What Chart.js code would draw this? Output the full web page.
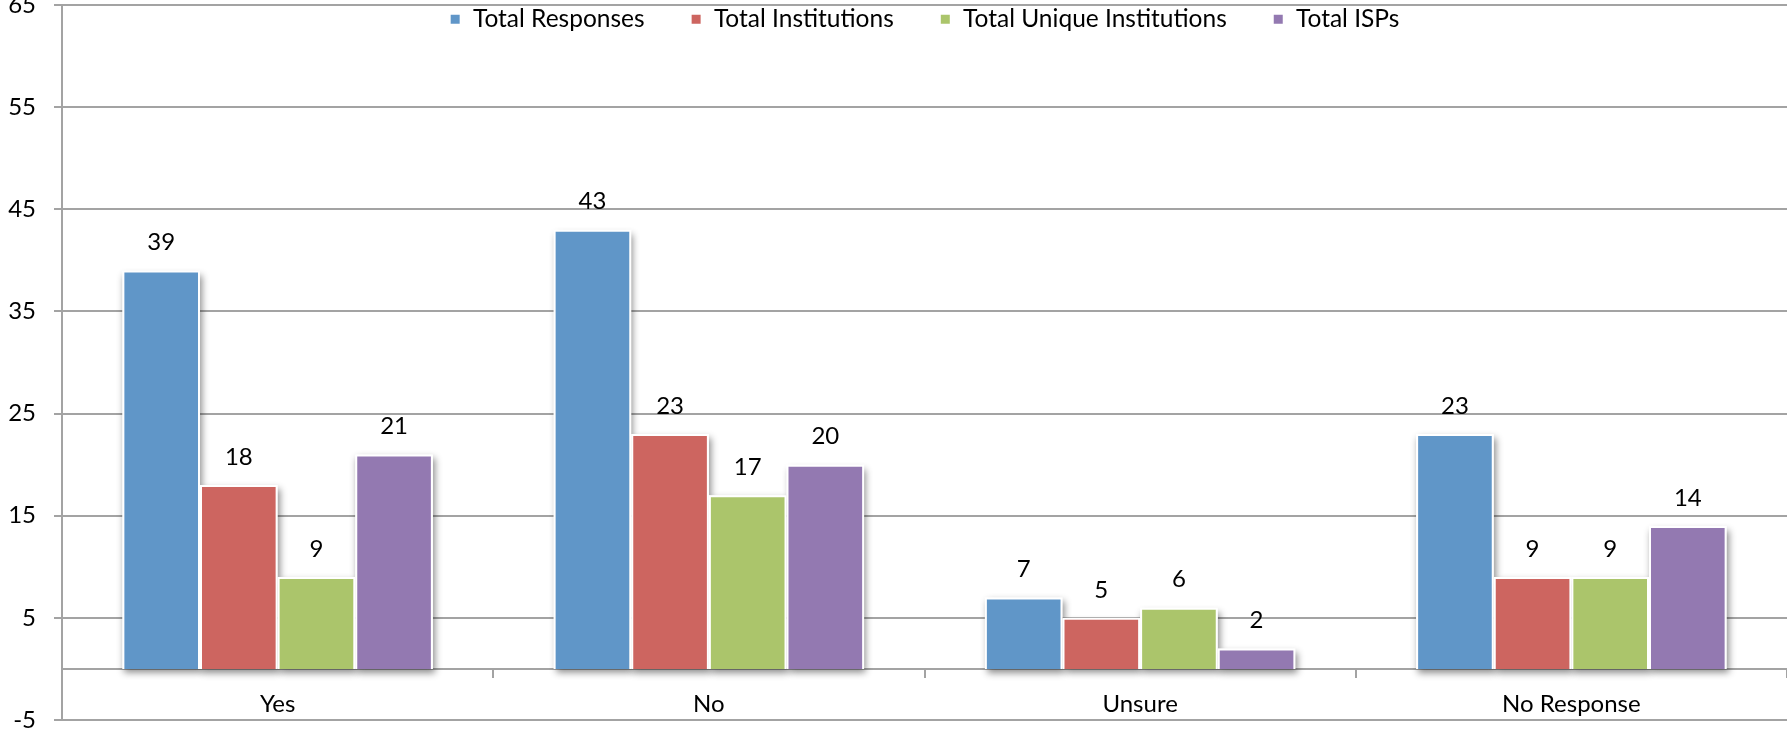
<!DOCTYPE html>
<html>
<head>
<meta charset="utf-8">
<title>Survey responses</title>
<script src="https://cdn.jsdelivr.net/npm/chart.js@4"></script>
<style>
    html, body { margin: 0; padding: 0; background: #fff; }
    #wrap { width: 1787px; height: 735px; }
</style>
</head>
<body>
<div id="wrap"><canvas id="responseChart" width="1787" height="735"></canvas></div>
<script>
// Chart data
const categories = ['Yes', 'No', 'Unsure', 'No Response'];
const seriesNames = ['Total Responses', 'Total Institutions', 'Total Unique Institutions', 'Total ISPs'];
const totalResponses = [39, 43, 7, 23];
const totalInstitutions = [18, 23, 5, 9];
const totalUniqueInstitutions = [9, 17, 6, 9];
const totalISPs = [21, 20, 2, 14];
const seriesColors = ['#6096C8', '#CD6560', '#ABC56B', '#9379B1'];

const FONT = 'Lato, "Open Sans", sans-serif';

// soft shadow under each bar, drawn before the bars themselves
const barShadow = {
    id: 'barShadow',
    beforeDatasetsDraw(chart) {
        const ctx = chart.ctx;
        ctx.save();
        ctx.shadowColor = 'rgba(0, 0, 0, 0.45)';
        ctx.shadowBlur = 7;
        ctx.shadowOffsetX = 2;
        ctx.shadowOffsetY = 4;
        ctx.fillStyle = '#ffffff';
        chart.data.datasets.forEach((ds, i) => {
            chart.getDatasetMeta(i).data.forEach(bar => {
                const w = bar.width;
                ctx.fillRect(bar.x - w / 2, bar.y, w, bar.base - bar.y);
            });
        });
        ctx.restore();
    }
};

// value labels above the bars
const valueLabels = {
    id: 'valueLabels',
    afterDatasetsDraw(chart) {
        const ctx = chart.ctx;
        ctx.save();
        ctx.font = '24px ' + FONT;
        ctx.fillStyle = '#000';
        ctx.textAlign = 'center';
        ctx.textBaseline = 'middle';
        chart.data.datasets.forEach((ds, i) => {
            chart.getDatasetMeta(i).data.forEach((bar, j) => {
                ctx.fillText(ds.data[j], bar.x, bar.y - 28);
            });
        });
        ctx.restore();
    }
};

// the legend takes no room in the layout; move it inside the plot, under the top gridline
const legendPlacement = {
    id: 'legendPlacement',
    afterLayout(chart) {
        const lg = chart.legend;
        const area = chart.chartArea;
        const pad = lg.options.labels.padding;
        lg.left = area.left;
        lg.right = area.right;
        lg.top = 7 - pad;
        lg.bottom = 60;
    }
};

const allSeries = [totalResponses, totalInstitutions, totalUniqueInstitutions, totalISPs];

new Chart(document.getElementById('responseChart').getContext('2d'), {
    type: 'bar',
    data: {
        labels: categories,
        datasets: allSeries.map((values, i) => ({
            label: seriesNames[i],
            data: values,
            backgroundColor: seriesColors[i],
            borderColor: '#ffffff',
            borderWidth: 2,
            categoryPercentage: 0.72,
            barPercentage: 1.0
        }))
    },
    options: {
        responsive: false,
        animation: false,
        layout: {
            padding: { left: 0, right: 0, top: 0, bottom: 15 }
        },
        scales: {
            y: {
                min: -5,
                max: 65,
                ticks: {
                    stepSize: 10,
                    color: '#000',
                    padding: 18,
                    font: { family: FONT, size: 24 }
                },
                grid: {
                    color: '#a3a3a3',
                    lineWidth: 2,
                    tickLength: 8
                },
                border: { color: '#a3a3a3', width: 2 },
                afterFit(scale) {
                    scale.width = 62;
                    scale.paddingTop = 5;
                    scale.paddingBottom = 0;
                }
            },
            x: {
                position: { y: 0 },
                ticks: {
                    color: '#000',
                    padding: 13,
                    font: { family: FONT, size: 24 }
                },
                grid: {
                    drawOnChartArea: false,
                    color: '#a3a3a3',
                    lineWidth: 2,
                    tickLength: 8
                },
                border: { color: '#a3a3a3', width: 2 }
            }
        },
        plugins: {
            legend: {
                position: 'top',
                align: 'center',
                maxHeight: 1,
                labels: {
                    boxWidth: 11,
                    boxHeight: 11,
                    padding: 46,
                    color: '#000',
                    font: { family: FONT, size: 24.5 }
                }
            },
            tooltip: { enabled: false }
        }
    },
    plugins: [barShadow, valueLabels, legendPlacement]
});
</script>
</body>
</html>
